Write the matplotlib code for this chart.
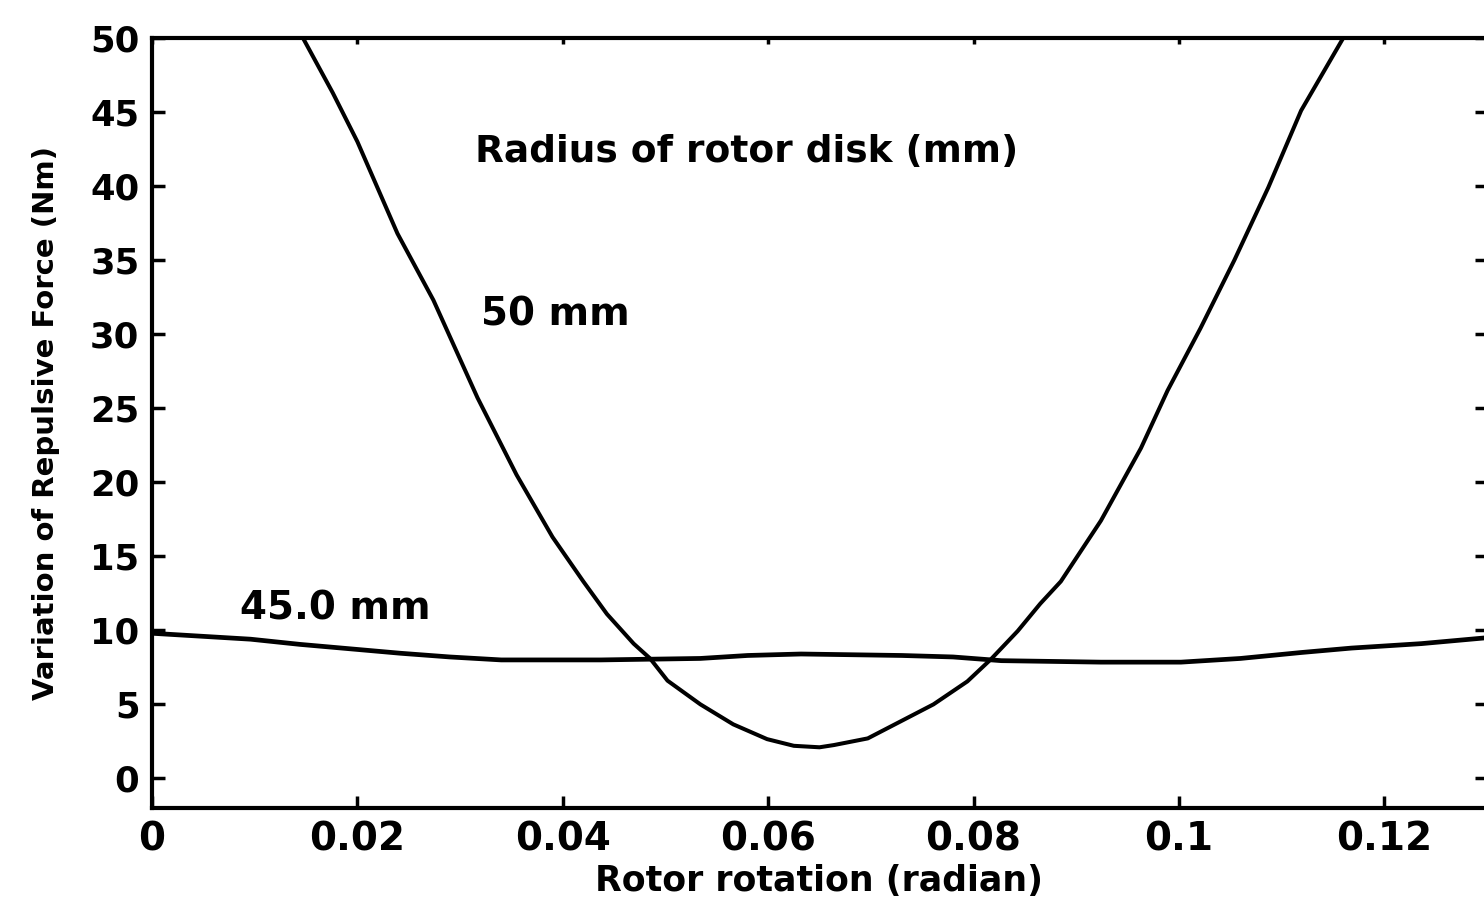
import matplotlib
matplotlib.use("Agg")
import matplotlib.pyplot as plt

plt.rcParams['font.family'] = ['DejaVu Sans']
plt.rcParams['font.weight'] = 'bold'

# 45.0 mm rotor disk: nearly flat curve
x_45 = [0.0, 0.0096, 0.0144, 0.0193, 0.0242, 0.029, 0.034, 0.0437, 0.0534,
        0.058, 0.0632, 0.073, 0.078, 0.0827, 0.0924, 0.1002, 0.106, 0.1119,
        0.1168, 0.1236, 0.13]
y_45 = [9.8, 9.4, 9.05, 8.75, 8.45, 8.2, 8.0, 8.0, 8.1,
        8.3, 8.4, 8.3, 8.2, 7.95, 7.85, 7.85, 8.1, 8.5,
        8.8, 9.1, 9.5]

# 50 mm rotor disk: deep U-shaped curve
x_50 = [0.0147, 0.0176, 0.0200, 0.0239, 0.0274, 0.0317, 0.0355, 0.0390,
        0.0420, 0.0443, 0.0469, 0.0485, 0.0502, 0.0534, 0.0566, 0.0599,
        0.0625, 0.0650, 0.0664, 0.0697, 0.0729, 0.0761, 0.0794, 0.0817,
        0.0843, 0.0865, 0.0885, 0.0924, 0.0963, 0.0989, 0.1021, 0.1054,
        0.1087, 0.1119, 0.1160]
y_50 = [50.0, 46.3, 43.0, 36.8, 32.3, 25.7, 20.5, 16.3,
        13.3, 11.1, 9.1, 8.1, 6.6, 5.0, 3.65, 2.65,
        2.2, 2.1, 2.25, 2.7, 3.85, 5.0, 6.55, 8.05,
        9.95, 11.8, 13.3, 17.4, 22.3, 26.2, 30.4, 35.0,
        39.9, 45.1, 50.0]

x_ticks = [0, 0.02, 0.04, 0.06, 0.08, 0.1, 0.12]
x_tick_labels = ['0', '0.02', '0.04', '0.06', '0.08', '0.1', '0.12']
y_ticks = [0, 5, 10, 15, 20, 25, 30, 35, 40, 45, 50]

fig = plt.figure(figsize=(14.84, 9.05), dpi=100)
ax = fig.add_axes([152 / 1484, 1 - 808 / 905, 1335 / 1484, 770 / 905])

ax.plot(x_45, y_45, color='black', lw=3.4)
ax.plot(x_50, y_50, color='black', lw=2.9)

ax.set_xlim(0, 0.13)
ax.set_ylim(-2, 50)
ax.set_xticks(x_ticks)
ax.set_xticklabels(x_tick_labels)
ax.set_yticks(y_ticks)

for s in ax.spines.values():
    s.set_linewidth(3)

ax.tick_params(axis='both', direction='in', width=2.5, length=9, top=True, right=True)
ax.tick_params(axis='x', labelsize=28, pad=9)
ax.tick_params(axis='y', labelsize=25.5, pad=9)
# top ticks are barely visible in the original
for t in ax.xaxis.get_major_ticks():
    t.tick2line.set_markersize(4)

ax.set_xlabel('Rotor rotation (radian)', fontsize=25, fontweight='bold', labelpad=4)
ax.set_ylabel('Variation of Repulsive Force (Nm)', fontsize=21, fontweight='bold', labelpad=22)

ax.text(0.0315, 42.3, 'Radius of rotor disk (mm)', fontsize=27, fontweight='bold', va='center', ha='left')
ax.text(0.032, 31.3, '50 mm', fontsize=28, fontweight='bold', va='center', ha='left')
ax.text(0.0086, 11.5, '45.0 mm', fontsize=28, fontweight='bold', va='center', ha='left')

fig.savefig('out.png', dpi=100, facecolor='white')
